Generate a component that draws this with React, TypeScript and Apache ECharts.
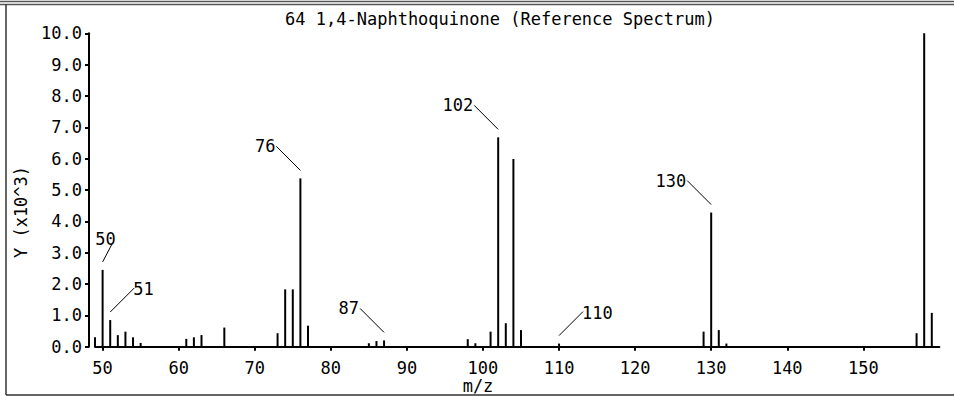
import React, { useEffect, useRef } from "react";
import * as echarts from "echarts";

// m/z values of the peaks and their intensities (x10^3)
const mzValues = [
  49, 50, 51, 52, 53, 54, 55, 61, 62, 63, 66, 73, 74, 75, 76, 77, 85, 86, 87,
  98, 99, 101, 102, 103, 104, 105, 110, 129, 130, 131, 132, 157, 158, 159,
];
const intensities = [
  0.3, 2.45, 0.85, 0.37, 0.48, 0.3, 0.12, 0.25, 0.3, 0.37, 0.61, 0.43, 1.83,
  1.83, 5.37, 0.67, 0.11, 0.18, 0.2, 0.24, 0.11, 0.48, 6.68, 0.75, 5.99, 0.53,
  0.1, 0.48, 4.28, 0.53, 0.1, 0.43, 10.0, 1.08,
];
const annotatedPeaks = [50, 51, 76, 87, 102, 110, 130];
const xTicks = [50, 60, 70, 80, 90, 100, 110, 120, 130, 140, 150];
const titleText = "64 1,4-Naphthoquinone (Reference Spectrum)";
const xName = "m/z";
const yName = "Y (x10^3)";

// leader-line direction for each annotated peak (style, not data)
const labelSide: Record<number, string> = {
  50: "up",
  51: "right",
  76: "left",
  87: "left",
  102: "left",
  110: "right",
  130: "left",
};

const FONT_FAMILY = "'DejaVu Sans Mono', 'Liberation Mono', monospace";
const FONT_SIZE = 17;
const FONT = `${FONT_SIZE}px ${FONT_FAMILY}`;
const INK = "#000";

export default function App() {
  const ref = useRef<HTMLDivElement>(null);

  useEffect(() => {
    if (!ref.current) return;
    const chart = echarts.init(ref.current, null, { renderer: "svg" });

    const barData = mzValues.map((m, i) => [m, intensities[i]]);
    const annData = annotatedPeaks.map((m) => [m, intensities[mzValues.indexOf(m)]]);

    const option: any = {
      animation: false,
      backgroundColor: "#fff",
      textStyle: { fontFamily: FONT_FAMILY },
      grid: { left: 95, right: 14.6, top: 33.3, bottom: 49.3, containLabel: false },
      xAxis: {
        type: "value",
        min: 49,
        max: 160,
        offset: 5,
        axisLine: { show: true, lineStyle: { color: INK, width: 2 } },
        axisTick: {
          show: true,
          length: 4,
          inside: false,
          customValues: xTicks,
          lineStyle: { color: INK, width: 2 },
        },
        axisLabel: {
          customValues: xTicks,
          color: INK,
          fontFamily: FONT_FAMILY,
          fontSize: FONT_SIZE,
          margin: 8,
        },
        splitLine: { show: false },
      },
      yAxis: {
        type: "value",
        min: 0,
        max: 10,
        interval: 1,
        offset: 6,
        axisLine: { show: true, lineStyle: { color: INK, width: 2 } },
        axisTick: { show: true, length: 4, lineStyle: { color: INK, width: 2 } },
        axisLabel: {
          color: INK,
          fontFamily: FONT_FAMILY,
          fontSize: FONT_SIZE,
          margin: 7,
          formatter: (v: number) => v.toFixed(1),
        },
        splitLine: { show: false },
      },
      series: [
        {
          type: "bar",
          data: barData,
          barWidth: 2,
          itemStyle: { color: INK },
          silent: true,
        },
        {
          type: "custom",
          data: annData,
          silent: true,
          clip: false,
          z: 5,
          renderItem: (_params: any, api: any) => {
            const mz = api.value(0);
            const v = api.value(1);
            const [x, y] = api.coord([mz, v]);
            const side = labelSide[mz];
            let x2: number, y2: number, tx: number, ty: number, align: string;
            if (side === "up") {
              x2 = x + 10;
              y2 = y - 27;
              tx = x + 3;
              ty = y - 31;
              align = "center";
            } else if (side === "right") {
              x2 = x + 24;
              y2 = y - 32;
              tx = x + 23;
              ty = y - 31;
              align = "left";
            } else {
              x2 = x - 24;
              y2 = y - 32;
              tx = x - 25;
              ty = y - 32;
              align = "right";
            }
            return {
              type: "group",
              children: [
                {
                  type: "line",
                  shape: { x1: x, y1: y - 8, x2, y2 },
                  style: { stroke: INK, lineWidth: 1 },
                },
                {
                  type: "text",
                  style: {
                    x: tx,
                    y: ty,
                    text: String(mz),
                    align,
                    verticalAlign: "middle",
                    font: FONT,
                    fill: INK,
                  },
                },
              ],
            };
          },
        },
      ],
      graphic: [
        {
          type: "line",
          shape: { x1: 0, y1: 1.5, x2: 954, y2: 1.5 },
          style: { stroke: "#555", lineWidth: 1.5 },
        },
        {
          type: "line",
          shape: { x1: 0, y1: 4.5, x2: 954, y2: 4.5 },
          style: { stroke: "#555", lineWidth: 1.5 },
        },
        {
          type: "line",
          shape: { x1: 6, y1: 4.5, x2: 6, y2: 395 },
          style: { stroke: "#333", lineWidth: 1.5 },
        },
        {
          type: "line",
          shape: { x1: 6, y1: 395, x2: 954, y2: 395 },
          style: { stroke: "#333", lineWidth: 1.5 },
        },
        {
          type: "text",
          x: 500,
          y: 19,
          style: {
            text: titleText,
            align: "center",
            verticalAlign: "middle",
            font: FONT,
            fill: INK,
          },
        },
        {
          type: "text",
          x: 478,
          y: 386,
          style: {
            text: xName,
            align: "center",
            verticalAlign: "middle",
            font: FONT,
            fill: INK,
          },
        },
        {
          type: "text",
          x: 21,
          y: 212,
          rotation: Math.PI / 2,
          style: {
            text: yName,
            align: "center",
            verticalAlign: "middle",
            font: FONT,
            fill: INK,
          },
        },
      ],
    };

    chart.setOption(option);
    return () => chart.dispose();
  }, []);

  return (
    <div
      ref={ref}
      style={{ position: "fixed", left: 0, top: 0, width: 954, height: 396, background: "#fff" }}
    />
  );
}
